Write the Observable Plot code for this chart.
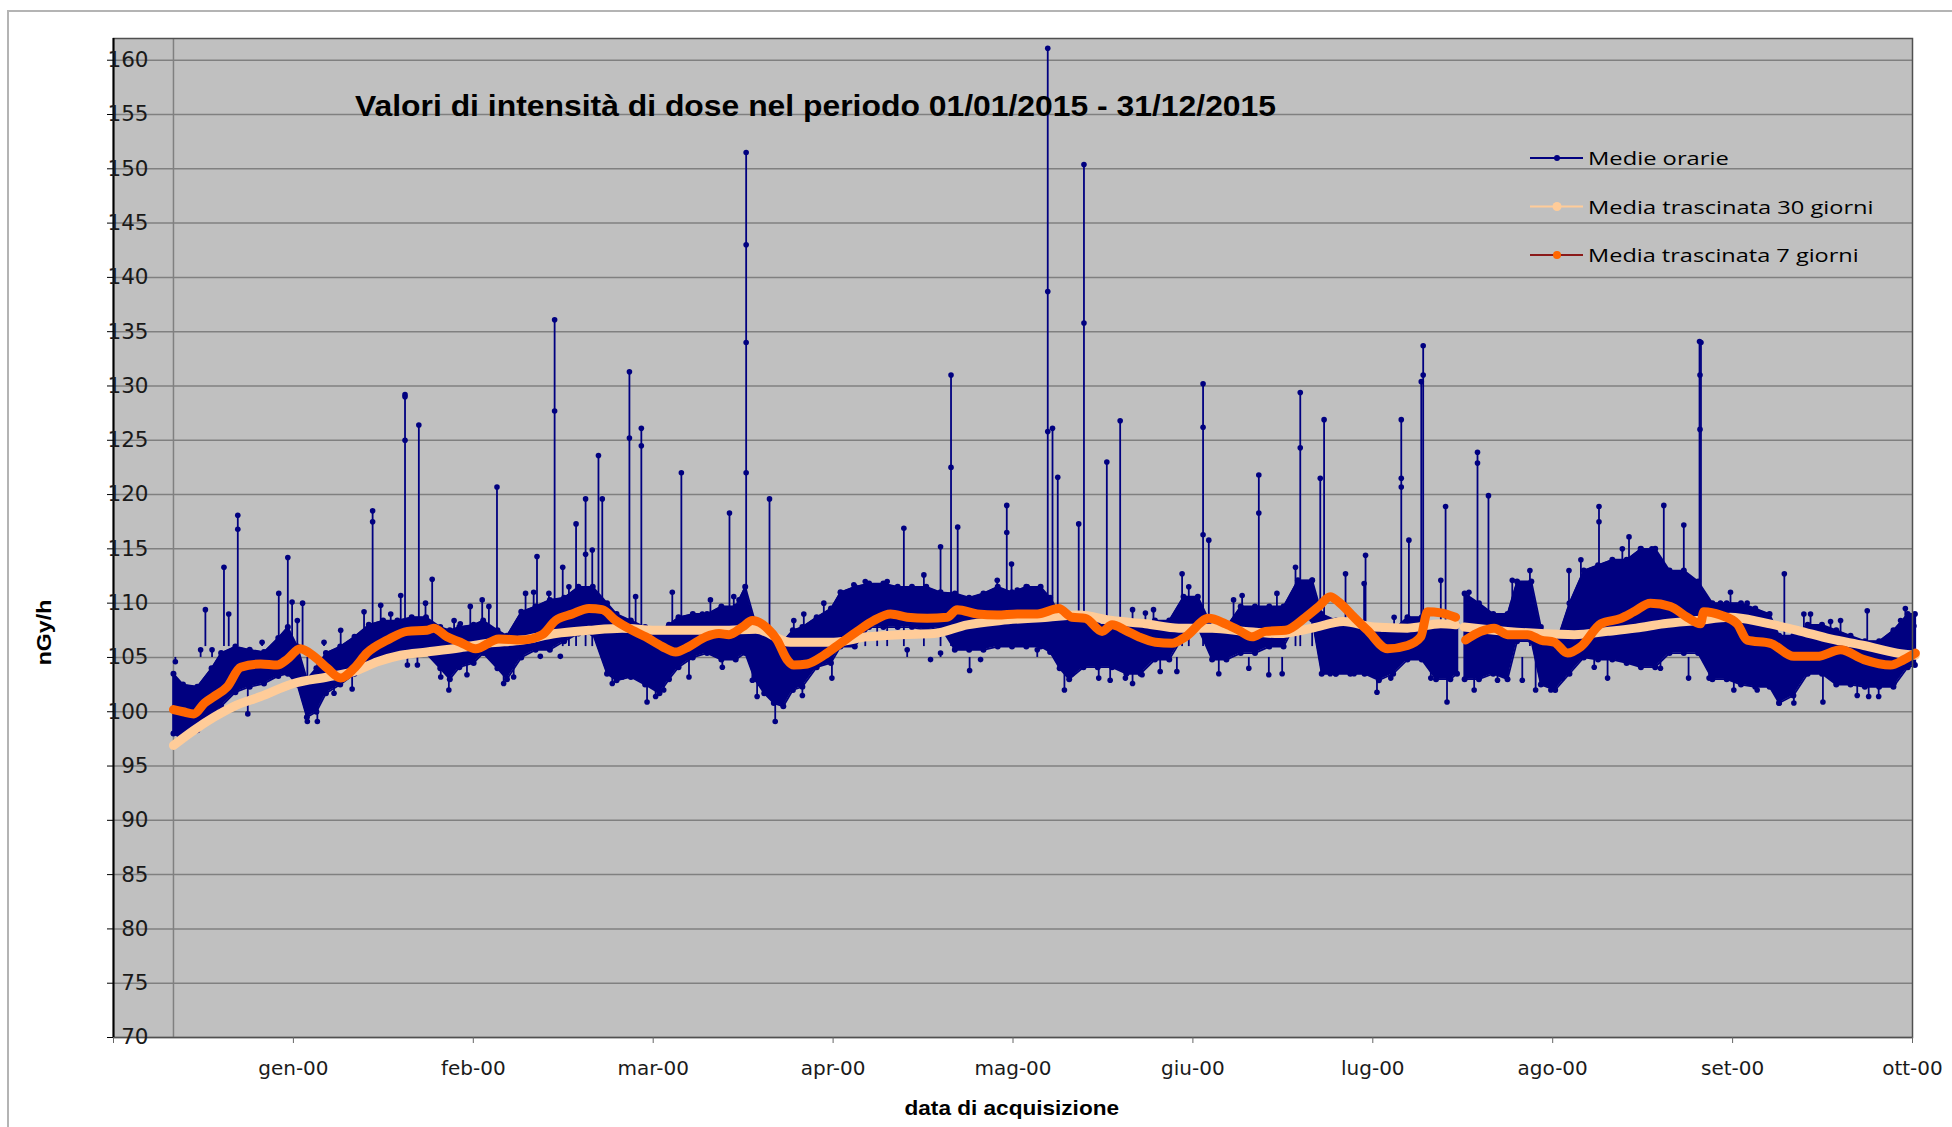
<!DOCTYPE html>
<html><head><meta charset="utf-8">
<script src="https://cdn.jsdelivr.net/npm/d3@7"></script>
<script src="https://cdn.jsdelivr.net/npm/@observablehq/plot@0.6"></script>
<style>
html,body{margin:0;padding:0;background:#fff;width:1952px;height:1127px;overflow:hidden;}
#wrap{position:relative;width:1952px;height:1127px;}
#border{position:absolute;left:7px;top:10px;width:1960px;height:1200px;border-left:2px solid #b4b4b4;border-top:2px solid #b4b4b4;}
#chart{position:absolute;left:0;top:0;}
.ov{position:absolute;white-space:nowrap;color:#000;line-height:1.2;}
</style></head><body><div id="wrap"><div id="border"></div><div id="chart"></div></div>
<script>
// ---------- axis definitions ----------
const xTickValues = [0, 30, 60, 90, 120, 150, 180, 210, 240, 270, 300];
const xTickLabels = ["", "gen-00", "feb-00", "mar-00", "apr-00", "mag-00", "giu-00", "lug-00", "ago-00", "set-00", "ott-00"];
const yTickValues = [70, 75, 80, 85, 90, 95, 100, 105, 110, 115, 120, 125, 130, 135, 140, 145, 150, 155, 160];
const AXIS_DATA_START = 10, AXIS_DATA_END = 300, DAYS_IN_YEAR = 365; // data (day of 2015) -> axis units
const axisCross = 10; // vertical line where the series begin

// ---------- Medie orarie: dense core band (day of year, low, high) ----------
const coreDay = [0,2,5,8,10,13,16,19,22,24,26,28,30,32,35,38,41,44,47,50,53,56,58,60,63,65,68,70,73,76,79,82,85,88,91,93,96,99,102,104,106,109,112,115,118,120,122,124,126,128,130,132,135,138,140,143,146,149,152,155,158,161,164,167,170,173,176,179,182,184,186,188,191,194,197,200,203,206,209,212,215,218,221,224,227,230,233,236,239,241,244,247,250,253,256,259,262,265,268,269.4,269.8,271,274,277,280,282,285,287,290,293,296,299,302,305,308,311,314,317,320,323,326,329,332,335,337,340,343,346,349,352,355,358,361,364,365.5];
const coreLow = [98.0,97.5,98.3,99.5,100.5,101.8,102.3,102.6,103.3,103.5,102.5,99.5,100.0,101.7,102.5,103.5,104.5,104.8,105.2,105.4,105.4,104.0,103.0,104.1,104.5,105.4,104.0,103.0,105.0,105.7,105.7,106.5,107.2,107.2,103.5,102.9,103.2,102.5,101.7,103.0,104.1,105.0,105.4,104.8,104.8,105.4,103.0,101.7,100.8,100.5,102.0,102.3,104.1,104.5,106.0,106.0,107.8,107.8,107.8,107.8,107.5,107.8,105.7,105.7,105.7,106.0,106.0,106.0,106.0,105.5,104.0,103.0,104.1,104.1,104.1,103.5,103.5,104.8,104.8,107.0,107.8,104.8,104.8,105.4,105.4,106.0,106.0,108.5,108.5,103.5,103.5,103.5,103.5,102.9,103.5,104.8,104.8,103.0,103.0,103.5,null,103.0,103.0,103.5,103.0,106.5,106.5,102.5,102.0,103.5,105.0,104.8,104.8,104.5,104.1,104.1,105.4,105.4,105.4,103.0,103.0,102.5,102.3,102.3,100.8,101.5,103.5,103.5,102.5,102.5,102.3,102.3,102.3,104.1,104.3];
const coreHigh = [103.5,102.5,102.3,104.0,105.4,106.0,105.7,105.5,106.8,107.8,106.0,103.0,104.0,105.4,106.0,106.9,108.0,108.4,108.4,108.7,108.7,107.8,107.5,107.8,108.0,108.4,107.5,107.0,109.2,109.7,110.3,110.5,111.5,111.5,110.0,109.0,108.4,107.8,107.5,108.0,108.7,109.0,109.0,109.7,109.7,111.5,108.4,108.0,106.9,106.5,107.5,107.8,108.7,109.5,111.0,111.5,111.8,111.8,111.5,111.5,111.5,111.0,110.9,110.5,110.9,111.5,111.0,111.5,111.5,110.5,109.0,108.4,108.4,108.0,108.0,107.8,107.8,108.4,108.4,110.6,110.6,107.8,107.8,109.7,109.7,109.7,109.7,112.1,112.1,109.0,108.4,108.4,108.0,107.2,107.5,108.7,108.7,107.8,107.8,108.0,null,110.9,110.0,109.0,109.0,112.0,112.0,107.8,106.0,110.0,113.0,113.5,114.0,114.0,115.0,115.0,113.0,113.0,112.0,110.0,110.0,110.0,109.5,109.0,107.0,107.0,108.0,108.0,107.5,107.0,106.5,106.5,107.5,109.0,109.0];

// ---------- Medie orarie: spikes (day, top value) ----------
const spikeDay = [10.6,13.5,22.1,24.0,27.1,41.8,48.6,51.5,54.3,67.9,76.3,80.0,81.7,84.5,86.5,89.2,90.0,95.7,97.0,98.2,106.6,116.7,120.2,125.1,153.3,161.0,163.2,164.6,174.9,175.9,183.5,184.5,185.6,190.0,191.1,195.9,198.7,211.7,216.1,217.3,227.8,235.5,236.5,240.7,241.5,250.2,257.7,259.3,261.9,262.3,267.0,273.7,276.0,284.7,299.2,305.5,312.8,317.0,320.3,320.6,326.8,338.1];
const spikeTop = [113.3,118.1,110.9,114.2,110.0,118.5,129.2,126.4,112.2,120.7,114.3,136.1,113.3,117.3,119.6,123.6,119.6,131.3,110.6,126.1,122.0,118.3,151.5,119.6,116.9,115.2,131.0,117.0,119.0,113.6,161.1,126.1,121.6,117.3,150.4,123.0,126.8,112.7,130.2,115.8,121.8,113.3,129.4,121.5,126.9,114.4,126.9,115.8,130.4,133.7,118.9,123.9,119.9,113.0,118.9,116.1,119.0,117.2,134.1,134.0,111.0,112.7];
// intermediate hourly points on the spikes
const stemDotDay = [13.5,41.8,48.6,48.6,80.0,86.5,95.7,98.2,120.2,120.2,120.2,163.2,174.9,183.5,183.5,191.1,216.1,216.1,227.8,236.5,257.7,257.7,262.3,273.7,299.2,320.4,320.4];
const stemDotValue = [116.8,117.5,125.0,129.0,127.7,114.5,125.2,124.5,143.0,134.0,122.0,122.5,116.5,138.7,125.8,135.8,126.2,116.3,118.3,124.3,121.5,120.7,131.0,122.9,117.5,131.0,126.0];

// ---------- Medie orarie: small excursions around the band ----------
const excDay = [
  0.4,5.7,6.7,8.1,11.6,15.6,18.6,24.9,26.0,28.1,30.2,31.6,33.7,35.1,37.5,40.0,43.5,45.6,47.7,49.1,51.2,52.9,56.1,57.8,58.9,
  60.2,61.6,62.3,64.8,66.2,69.3,71.4,73.9,75.6,77.0,78.8,81.2,83.0,87.9,92.1,94.2,99.4,101.2,102.9,104.7,108.2,111.0,112.7,115.2,117.6,118.7,121.5,
  122.5,126.3,130.2,132.0,132.3,136.5,138.2,140.7,142.8,145.2,147.7,149.8,154.0,157.5,158.9,161.0,167.1,169.4,172.9,177.1,179.2,181.3,
  187.0,188.6,194.2,196.6,199.8,201.3,201.3,203.3,204.0,205.7,207.1,210.6,213.1,219.4,222.5,224.3,225.7,229.9,231.6,232.7,239.0,242.8,243.9,
  246.0,247.8,249.9,252.6,255.5,256.2,263.9,266.0,267.3,271.9,273.0,277.9,281.0,283.1,285.9,289.1,291.5,292.9,295.4,298.2,301.0,301.7,304.1,306.2,
  307.9,310.3,312.1,314.9,318.0,322.3,324.7,327.5,330.3,332.4,337.0,340.1,342.2,343.6,346.2,347.8,349.9,353.4,355.5,355.8,357.9,361.1,362.5,363.5,365.3];
const excValue = [
  104.6,105.7,109.4,105.7,109.0,99.8,106.4,110.1,108.4,99.1,99.1,106.4,101.7,107.5,102.1,109.2,109.8,109.0,110.7,104.3,104.3,110.0,103.2,102.0,108.4,
  108.1,103.4,109.7,110.3,109.7,102.6,103.2,110.9,111.0,105.1,110.9,105.1,111.5,114.9,102.6,103.2,100.9,101.4,102.0,111.0,103.2,109.0,110.3,104.1,110.6,110.3,102.9,
  101.4,99.1,108.4,101.5,109.0,110.0,103.1,110.0,111.7,112.0,111.5,112.0,105.7,112.6,104.8,105.4,103.8,104.8,112.1,111.2,111.5,105.7,
  102.0,103.5,103.1,102.9,103.1,102.6,109.4,103.4,109.1,109.4,103.7,103.7,111.5,103.5,110.3,110.7,104.0,103.4,110.9,103.5,112.1,103.5,103.5,
  112.7,103.5,111.8,101.8,103.1,108.7,103.1,112.1,100.9,111.0,102.0,102.9,112.1,102.9,102.0,102.0,103.1,113.0,114.0,104.1,103.1,113.0,115.0,104.9,
  115.0,115.0,104.0,111.3,103.1,103.1,110.0,102.0,110.0,102.0,100.8,100.8,109.0,109.0,100.9,108.3,108.4,101.5,109.3,101.4,101.4,102.6,108.4,109.5,107.9];

// ---------- Media trascinata 30 giorni ----------
const ma30Day = [0,4.3,8.5,12.7,18.3,25.2,32.3,37.9,42.8,47.7,53.2,60.2,66,73.2,80.2,87.2,94.2,101.2,108.2,115.2,122.2,129.5,138.6,145.6,152.6,159.6,166.6,173.6,183.5,190.0,197.0,204.0,211.0,218.0,225.0,232.0,239.0,245.5,252.0,259.0,266.0,269.1,269.8,270.9,280.0,287.0,294.0,301.0,307.0,312.8,319.8,326.8,333.8,340.8,347.8,354.8,361.8,365.6];
const ma30Value = [96.9,98.3,99.5,100.5,101.4,102.6,103.2,103.7,104.6,105.2,105.5,105.9,106.3,106.6,107.2,107.5,107.7,107.5,107.5,107.5,107.6,106.4,106.4,106.9,107.1,107.2,108.0,108.4,108.7,108.9,108.4,108.1,107.7,107.7,107.4,107.2,107.7,108.3,107.8,107.7,108.1,108.0,null,107.8,107.4,107.2,107.1,107.4,107.7,108.1,108.4,108.7,108.2,107.5,106.7,106.1,105.4,105.2];

// ---------- Media trascinata 7 giorni ----------
const ma7Day = [0,2,4.3,6.5,8.5,11.3,14.1,18.3,21.8,23.8,26.6,29.5,32.3,35.1,37.9,40.6,44.9,49.1,53.2,54.6,57.4,60.2,63.4,68.3,73.2,77.4,80.2,83.7,87.2,90.0,92.8,96.3,99.1,102.6,105.4,108.2,111.7,114.5,116.6,119.4,121.5,124.6,126.7,128.8,130.2,133.0,136.5,140.0,143.5,147.0,150.5,154.0,158.2,162.4,164.5,168.7,172.9,177.1,181.3,185.8,188.6,191.4,194.9,197.0,199.8,202.6,206.1,209.6,212.4,217.3,220.8,223.6,226.4,229.2,233.4,237.6,240.4,242.8,244.6,247.8,250.6,254.8,259.0,261.8,263.2,266.0,269.1,269.8,271.2,274.4,277.2,280.0,284.2,287.0,289.8,292.6,295.4,299.6,303.8,306.5,310.0,314.2,317.7,320.5,321.2,324.7,328.2,330.3,335.2,340.1,345.0,349.9,354.8,360.4,363.2,365.6];
const ma7Value = [100.2,100.0,99.8,100.8,101.4,102.3,104.1,104.4,104.3,104.8,105.8,105.1,104.0,103.1,104.0,105.4,106.6,107.4,107.5,107.7,106.9,106.4,105.8,106.7,106.6,107.1,108.4,109.0,109.5,109.4,108.4,107.5,106.9,106.0,105.5,106.0,106.9,107.2,107.1,107.8,108.4,107.7,106.6,104.8,104.3,104.4,105.2,106.3,107.4,108.4,109.0,108.7,108.6,108.7,109.4,109.0,108.9,109.0,109.0,109.5,108.7,108.6,107.4,108.0,107.5,106.9,106.4,106.3,106.9,108.6,108.1,107.5,106.9,107.4,107.5,108.7,109.7,110.6,110.1,108.7,107.5,105.8,106.1,106.9,109.2,109.1,108.7,null,106.6,107.4,107.7,107.1,107.1,106.6,106.4,105.4,106.0,108.1,108.6,109.2,110.0,109.7,108.7,108.1,109.2,108.9,108.1,106.6,106.3,105.1,105.1,105.7,104.8,104.3,104.8,105.4];

// ---------- legend / titles ----------
const seriesNames = ["Medie orarie", "Media trascinata 30 giorni", "Media trascinata 7 giorni"];
const chartTitle = "Valori di intensità di dose nel periodo 01/01/2015 - 31/12/2015";
const xTitle = "data di acquisizione";
const yTitle = "nGy/h";

// ---------- build tables ----------
const toAxis = d => AXIS_DATA_START + d * (AXIS_DATA_END - AXIS_DATA_START) / DAYS_IN_YEAR;
const core = coreDay.map((d, i) => ({x: toAxis(d), lo: coreLow[i], hi: coreHigh[i]}));
const coreDefined = core.filter(d => d.lo != null);
const spikes = spikeDay.map((d, i) => ({x: toAxis(d), v: spikeTop[i]}));
const stemDots = stemDotDay.map((d, i) => ({x: toAxis(d), v: stemDotValue[i]}));
const exc = excDay.map((d, i) => ({x: toAxis(d), v: excValue[i]}));
const ma30 = ma30Day.map((d, i) => ({x: toAxis(d), v: ma30Value[i]}));
const ma7 = ma7Day.map((d, i) => ({x: toAxis(d), v: ma7Value[i]}));
const tickLabel = new Map(xTickValues.map((t, i) => [t, xTickLabels[i]]));

const NAVY = "#000080", BEIGE = "#ffcc99", ORANGE = "#ff6600", GRID = "#808080";

const chart = Plot.plot({
  width: 1952, height: 1127,
  marginLeft: 113, marginRight: 40, marginTop: 38, marginBottom: 90,
  style: {background: "transparent", fontFamily: "DejaVu Sans", color: "#1a1a1a"},
  x: {domain: [0, 300]},
  y: {domain: [70, 162]},
  marks: [
    Plot.frame({fill: "#c0c0c0", stroke: null}),
    Plot.gridY(yTickValues, {stroke: GRID, strokeOpacity: 1, strokeWidth: 1.5}),
    Plot.ruleX([axisCross], {stroke: GRID, strokeWidth: 1.5}),
    // hourly values
    Plot.ruleX(spikes, {x: "x", y1: 106, y2: "v", stroke: NAVY, strokeWidth: 1.8}),
    Plot.ruleX(exc, {x: "x", y1: d => d.v > 106 ? 106 : 105, y2: "v", stroke: NAVY, strokeWidth: 1.8}),
    Plot.ruleX(coreDefined, {x: "x", y1: "lo", y2: "hi", stroke: NAVY, strokeWidth: 2.5}),
    Plot.areaY(core, {x: "x", y1: "lo", y2: "hi", fill: NAVY, fillOpacity: 1}),
    Plot.line(core, {x: "x", y: "lo", stroke: NAVY, strokeWidth: 1.8}),
    Plot.line(core, {x: "x", y: "hi", stroke: NAVY, strokeWidth: 1.8}),
    Plot.dot(coreDefined, {x: "x", y: "lo", r: 3, fill: NAVY}),
    Plot.dot(coreDefined, {x: "x", y: "hi", r: 3, fill: NAVY}),
    Plot.dot(spikes, {x: "x", y: "v", r: 2.8, fill: NAVY}),
    Plot.dot(stemDots, {x: "x", y: "v", r: 2.8, fill: NAVY}),
    Plot.dot(exc, {x: "x", y: "v", r: 2.8, fill: NAVY}),
    // moving averages
    Plot.line(ma30, {x: "x", y: "v", stroke: BEIGE, strokeWidth: 9, curve: "monotone-x", strokeLinecap: "round", strokeLinejoin: "round"}),
    Plot.line(ma7, {x: "x", y: "v", stroke: ORANGE, strokeWidth: 9, curve: "monotone-x", strokeLinecap: "round", strokeLinejoin: "round"}),
    // frame & axes
    Plot.frame({stroke: "#505050", strokeWidth: 1.5}),
    Plot.ruleX([0], {stroke: "#000", strokeWidth: 2}),
    Plot.axisY({ticks: yTickValues, tickSize: 6, tickPadding: -41, fontSize: 21.5, label: null, stroke: "#000"}),
    Plot.axisX({ticks: xTickValues, tickSize: 6, tickPadding: 17, fontSize: 20, label: null, tickFormat: d => tickLabel.get(d), stroke: "#666"})
  ]
});
document.getElementById("chart").appendChild(chart);

// ---------- overlays (title, axis titles, legend) ----------
const wrap = document.getElementById("wrap");
function addText(txt, css, targetW, cx, cy, rot) {
  const el = document.createElement("div");
  el.className = "ov";
  el.textContent = txt;
  Object.assign(el.style, css);
  wrap.appendChild(el);
  const w = el.offsetWidth, h = el.offsetHeight;
  const s = targetW ? targetW / w : 1;
  el.style.left = (cx - w / 2) + "px";
  el.style.top = (cy - h / 2) + "px";
  el.style.transform = `rotate(${rot || 0}deg) scaleX(${s})`;
  return el;
}
addText(chartTitle, {font: "bold 30px 'Liberation Sans', Arial, sans-serif"}, 921, 815.5, 106, 0);
addText(xTitle, {font: "bold 21px 'Liberation Sans', Arial, sans-serif"}, 215, 1012, 1108, 0);
addText(yTitle, {font: "bold 20px 'Liberation Sans', Arial, sans-serif"}, 66, 44, 632, -90);

const legendY = [158, 206.5, 255];
const legendW = [141, 286, 271];
const legendLine = [NAVY, BEIGE, "#8b1a1a"];
const legendDot = [NAVY, BEIGE, ORANGE];
const legendDotR = [3, 4.5, 4];
seriesNames.forEach((name, i) => {
  addText(name, {font: "19px 'Open Sans', sans-serif"}, legendW[i], 1588 + legendW[i] / 2, legendY[i], 0);
});
const lsvg = d3.select(wrap).append("svg")
  .attr("width", 1952).attr("height", 1127)
  .style("position", "absolute").style("left", 0).style("top", 0).style("pointer-events", "none");
seriesNames.forEach((name, i) => {
  lsvg.append("line").attr("x1", 1530).attr("x2", 1583).attr("y1", legendY[i]).attr("y2", legendY[i])
    .attr("stroke", legendLine[i]).attr("stroke-width", 2);
  lsvg.append("circle").attr("cx", 1557).attr("cy", legendY[i]).attr("r", legendDotR[i]).attr("fill", legendDot[i]);
});
</script>
</body></html>
